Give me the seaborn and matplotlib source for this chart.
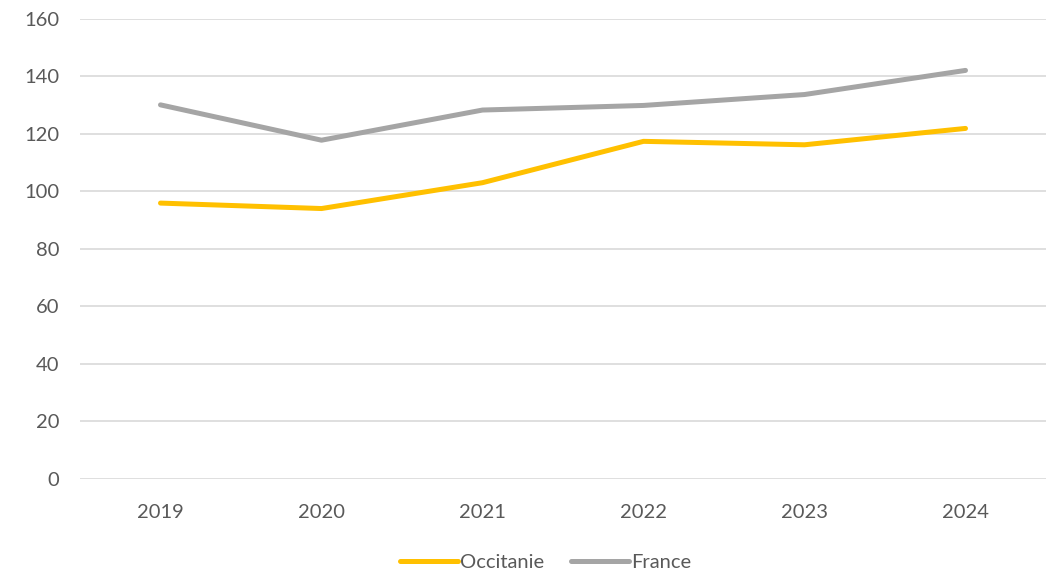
import matplotlib
matplotlib.use("Agg")
import matplotlib.pyplot as plt
import seaborn as sns
import pandas as pd

years = ["2019", "2020", "2021", "2022", "2023", "2024"]
occitanie = [95.9, 94.0, 103.0, 117.4, 116.2, 121.9]
france = [130.1, 117.8, 128.3, 129.9, 133.7, 142.1]
series_names = ["Occitanie", "France"]
colors = ["#FFC000", "#A5A5A5"]

df = pd.DataFrame({
    "year": years * 2,
    "value": occitanie + france,
    "series": [series_names[0]] * len(years) + [series_names[1]] * len(years),
})

sns.set_style("white")
plt.rcParams["font.family"] = ["Lato", "DejaVu Sans"]

fig = plt.figure(figsize=(10.56, 5.75), dpi=100)
ax = fig.add_axes([80 / 1056, 1 - 478.5 / 575, 966 / 1056, (478.5 - 19) / 575])

sns.lineplot(data=df, x="year", y="value", hue="series", palette=colors,
             linewidth=3.6, ax=ax, sort=False, legend=True)

ax.set_xlim(-0.5, 5.5)
ax.set_ylim(0, 160)
ax.set_yticks(range(0, 161, 20))
ax.grid(axis="y", color="#D9D9D9", linewidth=1.2)
ax.set_axisbelow(True)
for s in ax.spines.values():
    s.set_visible(False)
ax.tick_params(axis="both", length=0, labelsize=14.5, colors="#595959")
ax.tick_params(axis="y", pad=15)
ax.tick_params(axis="x", pad=18)
ax.set_xlabel("")
ax.set_ylabel("")

leg = ax.legend(loc="upper center", bbox_to_anchor=(0.482, -0.125), ncol=2,
                frameon=False, fontsize=14.5, handlelength=2.9, handletextpad=0.1,
                columnspacing=1.3)
for t in leg.get_texts():
    t.set_color("#595959")
for h in leg.get_lines():
    h.set_linewidth(3.6)

fig.savefig("out.png", dpi=100)
